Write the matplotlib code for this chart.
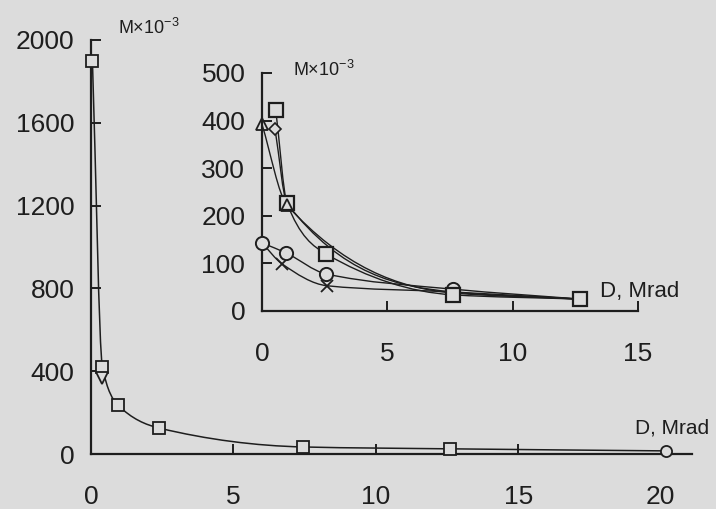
import matplotlib
matplotlib.use("Agg")
import matplotlib.pyplot as plt
from matplotlib.path import Path
from matplotlib.patches import PathPatch

plt.rcParams['font.family'] = ['Liberation Sans', 'DejaVu Sans']
plt.rcParams['mathtext.fontset'] = 'custom'
plt.rcParams['mathtext.rm'] = 'Liberation Sans'
plt.rcParams['mathtext.it'] = 'Liberation Sans'

# ---- main chart data ----
main_x = [0.05, 0.4, 0.95, 2.4, 7.45, 12.6, 20.2]
main_y = [1900, 420, 236, 125, 34, 25, 15]
main_v_x = [0.4]
main_v_y = [366]
main_xticks = [0, 5, 10, 15]
main_xlabels = [0, 5, 10, 15, 20]
main_yticks = [0, 400, 800, 1200, 1600, 2000]

# ---- inset data ----
sq_x = [0.55, 1.0, 2.55, 7.6, 12.7]
sq_y = [422, 226, 120, 34, 25]
tri_x = [0, 1.0, 7.6, 12.7]
tri_y = [392, 222, 38, 25]
dia_x = [0.52, 1.0, 7.6, 12.7]
dia_y = [382, 226, 40, 25]
circ_x = [0, 0.96, 2.55, 7.6, 12.7]
circ_y = [143, 122, 78, 46, 25]
cross_x = [0, 0.8, 2.6, 7.6, 12.7]
cross_y = [143, 99, 53, 40, 25]
ins_xticks = [0, 5, 10, 15]
ins_yticks = [0, 100, 200, 300, 400, 500]

BG = '#dcdcdc'
INK = '#1e1e1e'
W, H = 716, 509

fig = plt.figure(figsize=(W / 100, H / 100), dpi=100)
fig.patch.set_facecolor(BG)


def smooth_curve(a, xs, ys, lw):
    """Monotone (Fritsch-Carlson) cubic through the data points, drawn as Bezier path."""
    n = len(xs)
    h = [xs[i + 1] - xs[i] for i in range(n - 1)]
    d = [(ys[i + 1] - ys[i]) / h[i] for i in range(n - 1)]
    m = [0.0] * n
    m[0], m[-1] = d[0], d[-1]
    for i in range(1, n - 1):
        if d[i - 1] * d[i] <= 0:
            m[i] = 0.0
        else:
            w1 = 2 * h[i] + h[i - 1]
            w2 = h[i] + 2 * h[i - 1]
            m[i] = (w1 + w2) / (w1 / d[i - 1] + w2 / d[i])
    verts = [(xs[0], ys[0])]
    codes = [Path.MOVETO]
    for i in range(n - 1):
        verts += [(xs[i] + h[i] / 3, ys[i] + m[i] * h[i] / 3),
                  (xs[i + 1] - h[i] / 3, ys[i + 1] - m[i + 1] * h[i] / 3),
                  (xs[i + 1], ys[i + 1])]
        codes += [Path.CURVE4] * 3
    a.add_patch(PathPatch(Path(verts, codes), fill=False, edgecolor=INK,
                          lw=lw, clip_on=False, zorder=2))


def style_axes(a, xlim, ylim, xt, yt):
    a.set_facecolor('none')
    a.set_xlim(*xlim)
    a.set_ylim(*ylim)
    a.set_xticks(xt)
    a.set_yticks(yt)
    for s in ('top', 'right'):
        a.spines[s].set_visible(False)
    for s in ('left', 'bottom'):
        a.spines[s].set_linewidth(1.6)
        a.spines[s].set_color(INK)
    a.tick_params(axis='both', direction='in', length=7, width=1.4,
                  colors=INK, labelsize=19)
    a.tick_params(axis='x', pad=22)
    a.tick_params(axis='y', pad=12)


# main axes: x=0 at px 91, y=0 at px 454, y=2000 at px 40, x axis ends px 692
ax = fig.add_axes([91 / W, 1 - 454 / H, (692 - 91) / W, (454 - 40) / H])
style_axes(ax, (0, 21.1), (0, 2000), main_xlabels, main_yticks)
# x ticks visible only at 5, 10, 15 in the reference
for t, v in zip(ax.xaxis.get_major_ticks(), main_xlabels):
    if v not in main_xticks or v == 0:
        t.tick1line.set_visible(False)

mk = dict(markerfacecolor=BG, markeredgecolor=INK, markeredgewidth=1.3,
          clip_on=False, zorder=3)
smooth_curve(ax, main_x, main_y, 1.1)
ax.plot(main_x[:-1], main_y[:-1], ls='none', marker='s', markersize=8, **mk)
ax.plot(main_x[-1:], main_y[-1:], ls='none', marker='o', markersize=8, **mk)
ax.plot(main_v_x, main_v_y, ls='none', marker='v', markersize=8, **mk)

fig.text(118 / W, 1 - 28 / H, r'M$\times$10$^{-3}$', fontsize=13,
         color=INK, va='center', ha='left')
fig.text(635 / W, 1 - 428 / H, 'D, Mrad', fontsize=15,
         color=INK, va='center', ha='left')

# inset axes: x=0 at px 262, x=15 at px 638, y=0 at px 311, y=500 at px 73
ins = fig.add_axes([262 / W, 1 - 311 / H, (638 - 262) / W, (311 - 73) / H])
style_axes(ins, (0, 15), (0, 500), ins_xticks, ins_yticks)
ins.xaxis.get_major_ticks()[0].tick1line.set_visible(False)
ins.yaxis.get_major_ticks()[0].tick1line.set_visible(False)

for xs, ys in [(cross_x, cross_y), (circ_x, circ_y), (dia_x, dia_y),
               (sq_x, sq_y), (tri_x, tri_y)]:
    smooth_curve(ins, xs, ys, 1.0)

ins.plot([cross_x[i] for i in (1, 2)], [cross_y[i] for i in (1, 2)], ls='none',
         marker='x', markersize=9, markeredgecolor=INK, markeredgewidth=1.3,
         clip_on=False, zorder=3)
ins.plot(circ_x[:4], circ_y[:4], ls='none', marker='o', markersize=9.5,
         markerfacecolor=BG, markeredgecolor=INK, markeredgewidth=1.4,
         clip_on=False, zorder=3)
ins.plot(dia_x[:1], dia_y[:1], ls='none', marker='D', markersize=6,
         markerfacecolor=BG, markeredgecolor=INK, markeredgewidth=1.2,
         clip_on=False, zorder=3)
ins.plot(sq_x, sq_y, ls='none', marker='s', markersize=9.5,
         markerfacecolor=BG, markeredgecolor=INK, markeredgewidth=1.6,
         clip_on=False, zorder=3)
ins.plot(tri_x[:2], tri_y[:2], ls='none', marker='^', markersize=9,
         markerfacecolor='none', markeredgecolor=INK, markeredgewidth=1.3,
         clip_on=False, zorder=4)

fig.text(293 / W, 1 - 70 / H, r'M$\times$10$^{-3}$', fontsize=13,
         color=INK, va='center', ha='left')
fig.text(600 / W, 1 - 291 / H, 'D, Mrad', fontsize=16,
         color=INK, va='center', ha='left')

fig.savefig('out.png', dpi=100, facecolor=BG)
